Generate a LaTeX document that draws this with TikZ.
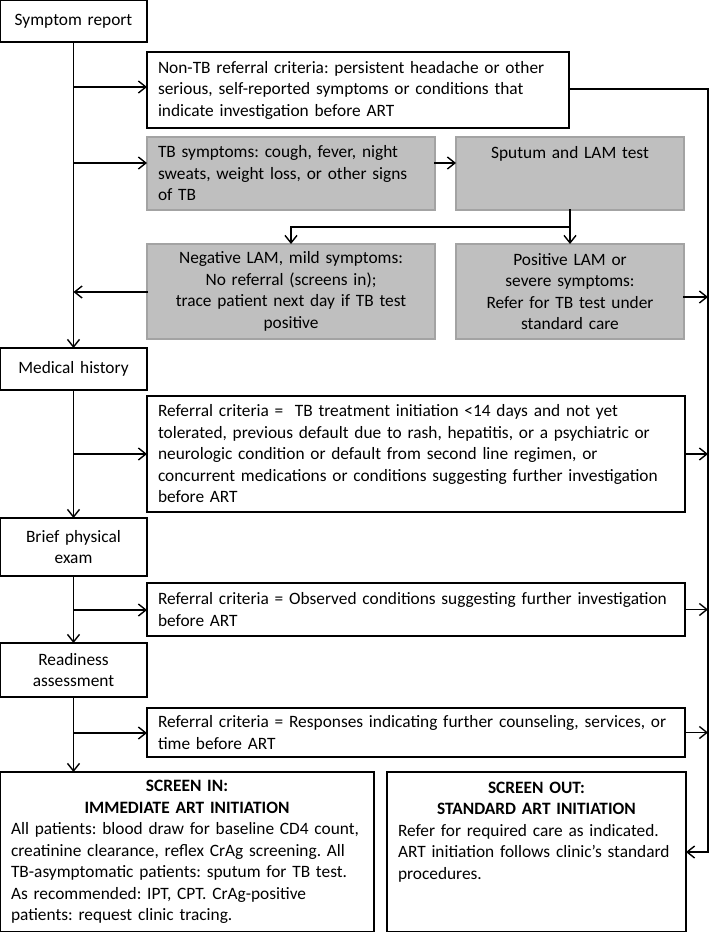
\documentclass[tikz,border=0pt]{standalone}
\usepackage{fontspec}
\setmainfont{Carlito}
\usetikzlibrary{arrows.meta}
\definecolor{boxgray}{HTML}{BFBFBF}
\definecolor{edgegray}{HTML}{A3A3A3}
\frenchspacing
\begin{document}
\begin{tikzpicture}[x=1pt,y=-1pt,
  every node/.style={font=\fontsize{17.35}{21.5}\selectfont\frenchspacing},
  box/.style={draw=black,line width=1.35pt,anchor=north west,inner xsep=11pt,inner ysep=0pt,outer sep=0pt},
  gbox/.style={box,draw=edgegray,fill=boxgray},
  conn/.style={line width=1.5pt,line cap=rect},
  arr/.style={conn,-{Straight Barb[length=7.5pt,width=12pt,line width=1.4pt]}}
]
\useasboundingbox (0,0) rectangle (709,932);
% left column
\node[box,minimum width=147pt,minimum height=42pt,inner xsep=0pt,align=center,text width=147pt] (sr) at (0,0) {Symptom report};
\node[box,minimum width=147pt,minimum height=42pt,inner xsep=0pt,align=center,text width=147pt] (mh) at (0,348) {Medical history};
\node[box,minimum width=147pt,minimum height=58pt,inner xsep=0pt,align=center,text width=147pt] (bpe) at (0,518) {Brief physical\\exam};
\node[box,minimum width=147pt,minimum height=54pt,inner xsep=0pt,align=center,text width=147pt] (ra) at (0,643) {Readiness\\assessment};
% referral boxes
\node[box,minimum height=76pt,text width=400pt,align=left] (ntb) at (147,52) {\mbox{Non-TB referral criteria: persistent headache or other}\\\mbox{serious, self-reported symptoms or conditions that}\\\mbox{indicate investigation before ART}};
\node[gbox,minimum height=73pt,text width=266pt,align=left] (tbs) at (147,137) {\mbox{TB symptoms: cough, fever, night}\\\mbox{sweats, weight loss, or other signs}\\\mbox{of TB}};
\node[gbox,minimum height=73pt,text width=206pt,align=center] (sput) at (456,137) {Sputum and LAM test\\\mbox{}\\\mbox{}};
\node[gbox,minimum height=95pt,text width=266pt,align=center] (neg) at (147,244) {Negative LAM, mild symptoms:\\No referral (screens in);\\trace patient next day if TB test\\positive};
\node[gbox,minimum height=95pt,text width=206pt,align=center] (pos) at (456,244) {Positive LAM or\\severe symptoms:\\Refer for TB test under\\standard care};
\node[box,minimum height=116pt,text width=516pt,align=left] (r1) at (147,396) {\mbox{Referral criteria = \ TB treatment initiation <14 days and not yet}\\\mbox{tolerated, previous default due to rash, hepatitis, or a psychiatric or}\\\mbox{neurologic condition or default from second line regimen, or}\\\mbox{concurrent medications or conditions suggesting further investigation}\\\mbox{before ART}};
\node[box,minimum height=53pt,text width=516pt,align=left] (r2) at (147,583) {\mbox{Referral criteria = Observed conditions suggesting further investigation}\\\mbox{before ART}};
\node[box,minimum height=49pt,text width=516pt,align=left] (r3) at (147,708) {\mbox{Referral criteria = Responses indicating further counseling, services, or}\\\mbox{time before ART}};
% outcomes
\node[box,minimum height=160pt,text width=352pt,align=left] (sin) at (0,772) {\makebox[352pt]{\bfseries SCREEN IN:}\\\makebox[352pt]{\bfseries IMMEDIATE ART INITIATION}\\\mbox{All patients: blood draw for baseline CD4 count,}\\\mbox{creatinine clearance, reflex CrAg screening. All}\\\mbox{TB-asymptomatic patients: sputum for TB test.}\\\mbox{As recommended: IPT, CPT. CrAg-positive}\\\mbox{patients: request clinic tracing.}};
\node[box,minimum height=160pt,text width=277pt,align=left] (sout) at (387,772) {\makebox[277pt]{\bfseries SCREEN OUT:}\\\makebox[277pt]{\bfseries STANDARD ART INITIATION}\\\mbox{Refer for required care as indicated.}\\\mbox{ART initiation follows clinic’s standard}\\\mbox{procedures.}\\\mbox{}\\\mbox{}};
% coordinates
\coordinate (m1) at (73.5,87);
\coordinate (m2) at (73.5,163);
\coordinate (m3) at (73.5,292);
\coordinate (m4) at (73.5,454);
\coordinate (m5) at (73.5,610);
\coordinate (m6) at (73.5,733);
\coordinate (rtop) at (708,89);
\coordinate (rpos) at (708,297);
\coordinate (split) at (570,227);
% main spine
\draw[arr] (sr.south) -- (mh.north);
\draw[arr] (mh.south) -- (bpe.north);
\draw[arr] (bpe.south) -- (ra.north);
\draw[arr] (ra.south) -- (ra.south |- sin.north);
% branches
\draw[arr] (m1) -- (m1 -| ntb.west);
\draw[arr] (m2) -- (m2 -| tbs.west);
\draw[arr] (m2 -| tbs.east) -- (m2 -| sput.west);
\draw[arr] (m3 -| neg.west) -- (m3);
\draw[arr] (m4) -- (m4 -| r1.west);
\draw[arr] (m5) -- (m5 -| r2.west);
\draw[arr] (m6) -- (m6 -| r3.west);
% sputum split
\draw[conn] (sput.south) -- (split);
\draw[arr] (split) -- (pos.north);
\draw[arr] (split) -| (neg.north);
% right spine
\draw[conn] (rtop -| ntb.east) -- (rtop) -- (rtop |- sout.east);
\draw[arr] (rtop |- sout.east) -- (sout.east);
\draw[arr] (rpos -| pos.east) -- (rpos);
\draw[arr] (r1.east) -- (r1.east -| rtop);
\draw[arr] (r2.east) -- (r2.east -| rtop);
\draw[arr] (r3.east) -- (r3.east -| rtop);
\end{tikzpicture}
\end{document}
